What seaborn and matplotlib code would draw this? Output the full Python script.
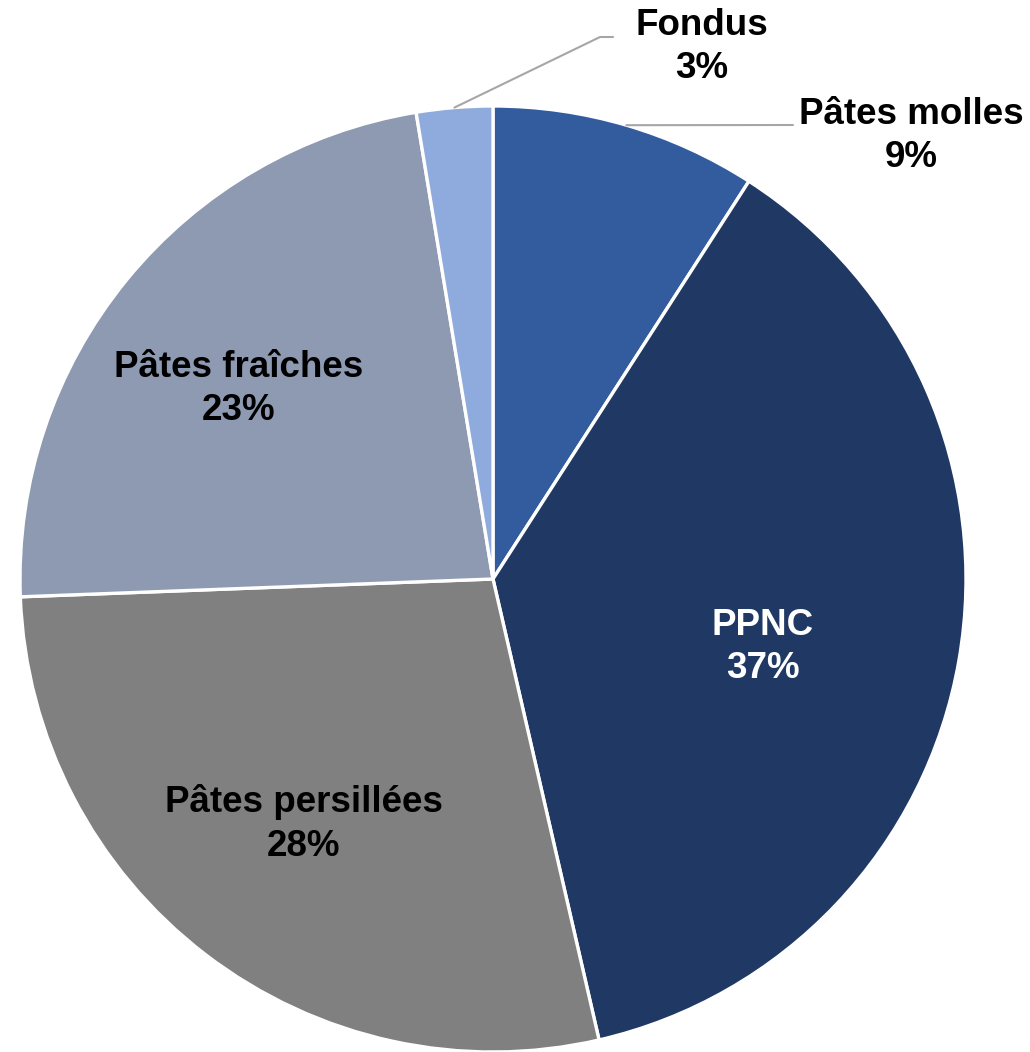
"""
Répartition des fromages par famille - camembert
"""

import numpy as np
import matplotlib
matplotlib.use("Agg")
import matplotlib.pyplot as plt
import seaborn as sns

sns.set_style("white")
plt.rcParams['font.family'] = ['Liberation Sans', 'DejaVu Sans']

# Données (parts en %, sens horaire depuis midi)
categories = ['Pâtes molles', 'PPNC', 'Pâtes persillées', 'Pâtes fraîches', 'Fondus']
shares = [9.1, 37.3, 28.0, 23.0, 2.6]
colors = ['#335C9F', '#203864', '#808080', '#8E9AB2', '#8FAADC']

W, H = 1030, 1052
fig = plt.figure(figsize=(W / 100, H / 100), dpi=100)
ax = fig.add_axes([0, 0, 1, 1])

cx, cy, r = 493, H - 579, 473
wedges, _ = ax.pie(shares, colors=colors, startangle=90, counterclock=False,
                   center=(cx, cy), radius=r, labels=None,
                   wedgeprops=dict(edgecolor='white', linewidth=2.4))
ax.set_xlim(0, W)
ax.set_ylim(0, H)
ax.set_aspect('equal')
ax.axis('off')

fs = 26.5
# positions des étiquettes (pixels, origine en haut à gauche)
label_pos = {
    'Pâtes molles': (911, 136),
    'PPNC': (763, 647),
    'Pâtes persillées': (304, 824),
    'Pâtes fraîches': (239, 389),
    'Fondus': (702, 47),
}
text_color = {'PPNC': 'white'}

for w, name, v in zip(wedges, categories, shares):
    tx, ty = label_pos[name]
    ax.text(tx, H - ty, f"{name}\n{v:.0f}%", ha='center', va='center',
            fontsize=fs, fontweight='bold', color=text_color.get(name, 'black'),
            linespacing=1.3)
    mid = np.deg2rad((w.theta1 + w.theta2) / 2)
    x0, y0 = cx + r * np.cos(mid), cy + r * np.sin(mid)
    if name == 'Fondus':
        ax.plot([x0, 600, 613], [y0, H - 37, H - 37], color='#A6A6A6', linewidth=1.5)
    elif name == 'Pâtes molles':
        ax.plot([x0, 793], [y0, H - 125], color='#A6A6A6', linewidth=1.5)

plt.savefig('out.png', dpi=100)
plt.close()
